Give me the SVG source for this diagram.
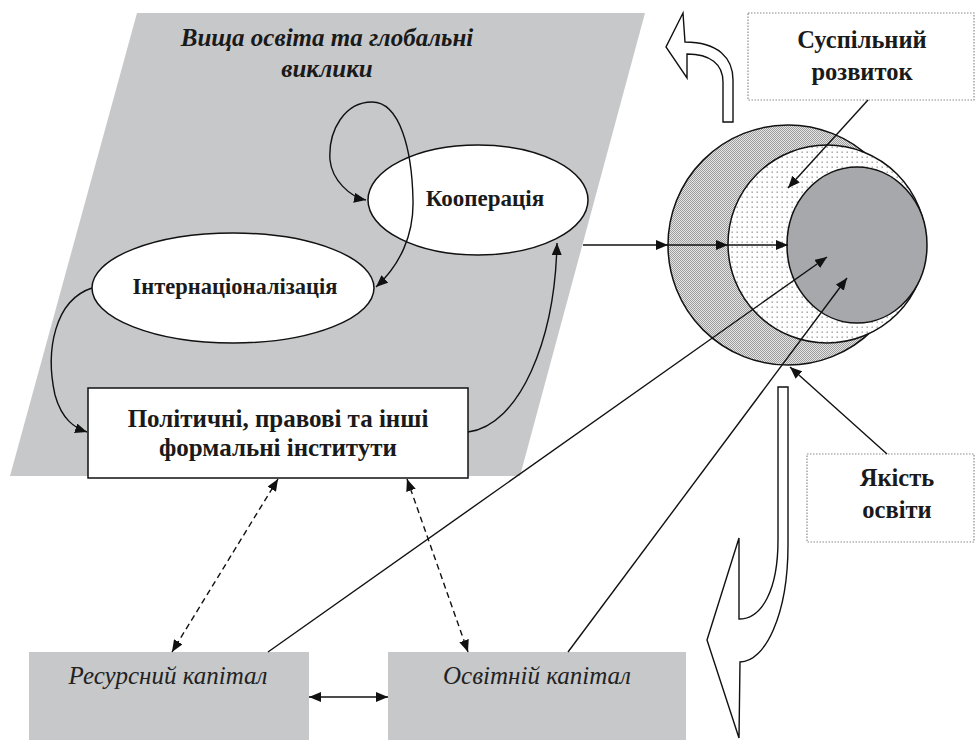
<svg xmlns="http://www.w3.org/2000/svg" width="979" height="740" viewBox="0 0 979 740">
<style>
.lbl{font-family:"Liberation Serif","Times New Roman",serif;font-weight:bold;font-size:23px;fill:#1a1a1a;text-anchor:middle}
.ttl{font-family:"Liberation Serif","Times New Roman",serif;font-weight:bold;font-style:italic;font-size:25px;fill:#1a1a1a;text-anchor:middle}
.cap{font-family:"Liberation Serif","Times New Roman",serif;font-style:italic;font-size:25px;fill:#222;text-anchor:middle}
.ln{fill:none;stroke:#111;stroke-width:1.4}
.dash{fill:none;stroke:#111;stroke-width:1.4;stroke-dasharray:6 4}
.node{fill:#fff;stroke:#111;stroke-width:1.5}
.gray{fill:#c7c8ca;stroke:none}
.note{fill:#fff;stroke:#8a8a8a;stroke-width:1.2;stroke-dasharray:1.5 1.5}
.hollow{fill:#fff;stroke:#111;stroke-width:1.4;stroke-linejoin:miter}
</style>
<defs>
<marker id="ah" viewBox="0 0 12 10" refX="12" refY="5" markerWidth="12" markerHeight="10" markerUnits="userSpaceOnUse" orient="auto-start-reverse">
<path d="M0,0 L12,5 L0,10 Z" fill="#111"/>
</marker>
<pattern id="hatch" width="2" height="2" patternUnits="userSpaceOnUse">
<rect width="2" height="2" fill="#e4e4e4"/>
<rect width="1" height="1" fill="#9e9e9e"/>
<rect x="1" y="1" width="1" height="1" fill="#9e9e9e"/>
</pattern>
<pattern id="dots" width="5" height="5" patternUnits="userSpaceOnUse">
<rect width="5" height="5" fill="#fff"/>
<rect x="1.5" y="1.5" width="1.4" height="1.4" fill="#9a9a9a"/>
</pattern>
</defs>

<g id="region-global">
<polygon class="gray" points="137,13 645,13 520,476 10,476"/>
<text class="ttl" x="327" y="46">Вища освіта та глобальні</text>
<text class="ttl" x="327" y="77">виклики</text>
</g>

<g id="node-cooperation">
<ellipse class="node" cx="478" cy="200" rx="110" ry="55"/>
<text class="lbl" x="485" y="206">Кооперація</text>
</g>

<g id="node-internationalization">
<ellipse class="node" cx="233" cy="288" rx="141" ry="55"/>
<text class="lbl" x="235" y="294" style="font-size:22.5px">Інтернаціоналізація</text>
</g>

<g id="node-institutions">
<rect class="node" x="88" y="388" width="380" height="90"/>
<text class="lbl" x="278" y="427" style="font-size:25px">Політичні, правові та інші</text>
<text class="lbl" x="278" y="456" style="font-size:25px">формальні інститути</text>
</g>

<g id="node-resource">
<rect class="gray" x="29" y="652" width="280" height="88"/>
<text class="cap" x="168" y="684">Ресурсний капітал</text>
</g>

<g id="node-education-capital">
<rect class="gray" x="388" y="652" width="298" height="88"/>
<text class="cap" x="537" y="684">Освітній капітал</text>
</g>

<g id="node-circles">
<circle cx="788" cy="245" r="120" fill="url(#hatch)" stroke="#111" stroke-width="1.5"/>
<circle cx="827" cy="244" r="99" fill="url(#dots)" stroke="#111" stroke-width="1.5"/>
<ellipse cx="857" cy="245" rx="70" ry="78" fill="#a7a8ab" stroke="#111" stroke-width="1.5"/>
</g>

<g id="node-social">
<rect class="note" x="748" y="13" width="226" height="87"/>
<text class="lbl" x="862" y="48" style="font-size:24.5px">Суспільний</text>
<text class="lbl" x="862" y="80" style="font-size:24.5px">розвиток</text>
</g>

<g id="node-quality">
<rect class="note" x="807" y="454" width="167" height="88"/>
<text class="lbl" x="897" y="486" style="font-size:24.5px">Якість</text>
<text class="lbl" x="897" y="518" style="font-size:24.5px">освіти</text>
</g>

<g id="connectors">
<path class="ln" d="M376,287 C400,265 414,235 413,200 C412,150 400,102 372,102 C345,102 328,130 330,160 C332,180 350,197 366,200" marker-start="url(#ah)" marker-end="url(#ah)"/>
<path class="ln" d="M92,288 C55,300 45,350 55,395 C62,420 75,428 87,432" marker-end="url(#ah)"/>
<path class="ln" d="M468,432 C520,425 555,340 557,243" marker-end="url(#ah)"/>
<line class="ln" x1="583" y1="245" x2="668" y2="245" marker-end="url(#ah)"/>
<line class="ln" x1="668" y1="245" x2="728" y2="245" marker-end="url(#ah)"/>
<line class="ln" x1="728" y1="245" x2="788" y2="245" marker-end="url(#ah)"/>
<line class="ln" x1="868" y1="100" x2="788" y2="188" marker-end="url(#ah)"/>
<line class="ln" x1="887" y1="454" x2="790" y2="367" marker-end="url(#ah)"/>
<line class="ln" x1="268" y1="652" x2="827" y2="257" marker-end="url(#ah)"/>
<line class="ln" x1="568" y1="652" x2="847" y2="278" marker-end="url(#ah)"/>
<line class="dash" x1="278" y1="479" x2="172" y2="652" marker-start="url(#ah)" marker-end="url(#ah)"/>
<line class="dash" x1="407" y1="479" x2="468" y2="652" marker-start="url(#ah)" marker-end="url(#ah)"/>
<line class="ln" x1="309" y1="697" x2="388" y2="697" marker-start="url(#ah)" marker-end="url(#ah)"/>
<path class="hollow" d="M723,122 L723,82 C723,64 710,54 687,54 L687,78 L666,47 L683,13 L685,42 C718,42 733,58 733,80 L733,122 Z"/>
<path class="hollow" d="M778,387 L788,387 L788,545 C788,615 765,662 740,662 L739,738 L707,640 L739,538 L739,619 C762,619 778,590 778,540 Z"/>
</g>
</svg>
